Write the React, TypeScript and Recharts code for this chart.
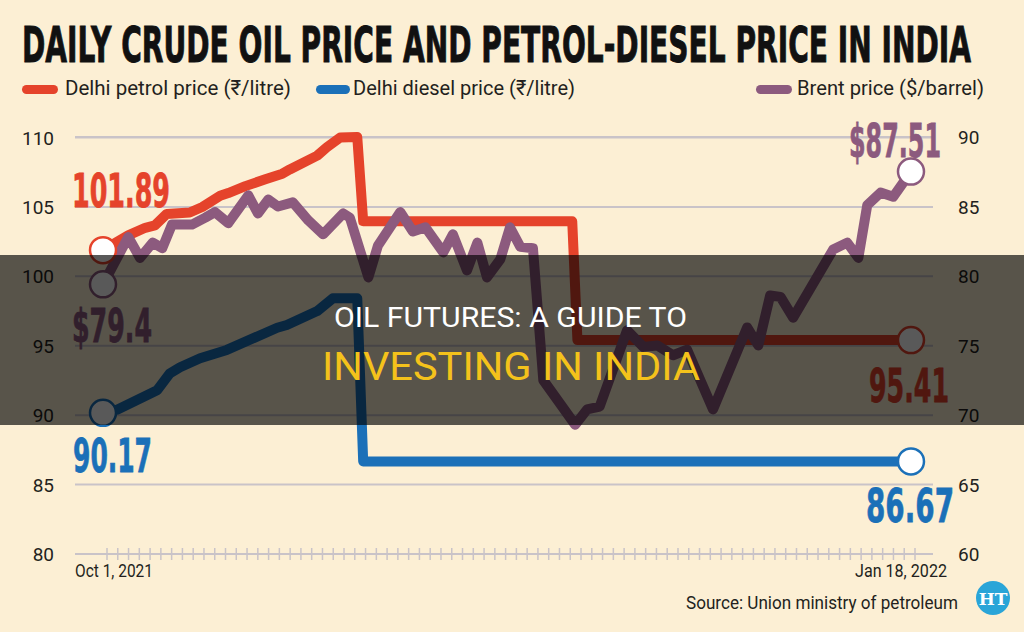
import React from 'react';
import { LineChart, Line, XAxis, YAxis, CartesianGrid } from 'recharts';

// x = days since Oct 1, 2021 (0) .. Jan 18, 2022 (109)
const petrolDays = [0, 3.4, 5.7, 7, 8.6, 11.7, 13.4, 15.8, 16.9, 19.2, 21.9, 24.2, 25.2, 28.9, 30.2, 32, 34.3, 35.1, 63.3, 64, 109];
const petrolPrice = [101.89, 102.95, 103.5, 103.67, 104.5, 104.6, 105.0, 105.8, 106.0, 106.5, 107.0, 107.4, 107.7, 108.7, 109.3, 110.0, 110.04, 103.97, 103.97, 95.41, 95.41];

const dieselDays = [0, 1.9, 7.3, 9, 10.4, 13.1, 16.7, 23.5, 24.8, 28.9, 31, 34.3, 35.1, 109];
const dieselPrice = [90.17, 90.4, 91.8, 93.0, 93.45, 94.1, 94.7, 96.3, 96.5, 97.5, 98.42, 98.42, 86.67, 86.67];

const brentDays = [0, 3.4, 5, 6.7, 8, 9.3, 12, 13.8, 15.1, 16.9, 19.6, 20.9, 22.3, 23.6, 25.6, 27.7, 29.7, 32.4, 33.3, 35.8, 37.1, 40.1, 41.8, 43.5, 45.9, 47.2, 49.1, 50.5, 51.8, 53.6, 54.9, 56.3, 58, 59.4, 63.7, 65.3, 67, 70.7, 72.9, 74.8, 76.9, 78.8, 82.3, 86.9, 88.4, 90, 91.4, 93.1, 98.5, 100.4, 101.9, 103.1, 104.9, 106.6, 109];
const brentPrice = [79.4, 82.8, 81.3, 82.4, 82.0, 83.7, 83.7, 84.2, 84.6, 83.8, 85.8, 84.5, 85.5, 85.0, 85.3, 84.0, 83.0, 84.5, 84.2, 79.9, 82.2, 84.6, 83.2, 83.5, 81.7, 83.0, 80.4, 82.4, 79.9, 81.2, 83.5, 82.1, 82.0, 72.5, 69.3, 70.4, 70.6, 76.1, 74.9, 75.0, 74.3, 74.7, 70.4, 76.3, 75.0, 78.6, 78.5, 77.0, 81.9, 82.4, 81.3, 85.1, 86.0, 85.7, 87.51];

const leftTicks = [80, 85, 90, 95, 100, 105, 110];
const rightTicks = [60, 65, 70, 75, 80, 85, 90];
const dateLabels = ['Oct 1, 2021', 'Jan 18, 2022'];
const legendLabels = ['Delhi petrol price (₹/litre)', 'Delhi diesel price (₹/litre)', 'Brent price ($/barrel)'];

const TICK_COUNT = 76;
const dayTicks = Array.from({ length: TICK_COUNT }, (_, i) => 0.54 + (i * 109) / (TICK_COUNT - 1));

const BG = '#FCEFD4';
const GRID = '#C9C3C8';
const PETROL = '#E5432B';
const DIESEL = '#1B70B8';
const BRENT = '#8C5A7E';
const INK = '#231F20';

const rows = (days: number[], vals: number[]) => days.map((d, i) => ({ day: d, v: vals[i] }));
const petrolData = rows(petrolDays, petrolPrice);
const dieselData = rows(dieselDays, dieselPrice);
const brentData = rows(brentDays, brentPrice);

// squeezed text: scaled horizontally so its box is the real width w
function FitText({ x, y, w, sx, children, ...rest }: any) {
  return (
    <text
      transform={`translate(${x},${y}) scale(${sx},1)`}
      textLength={w / sx}
      lengthAdjust="spacingAndGlyphs"
      {...rest}
    >
      {children}
    </text>
  );
}

// rough DejaVu Sans Bold advance widths for the big value labels
const numWidth = (s: string, size: number) =>
  [...s].reduce((t, c) => t + (c === '.' ? 0.38 : 0.696), 0) * size;

type Note = { dx: number; dy: number; w: number; text: string };

function endDots(color: string, count: number, start: Note, end: Note) {
  return (p: any) => {
    const { cx, cy, index } = p;
    if (index !== 0 && index !== count - 1) return <g key={`d${index}`} />;
    const n = index === 0 ? start : end;
    return (
      <g key={`d${index}`}>
        <circle cx={cx} cy={cy} r={13} fill="#fff" stroke={color} strokeWidth={2.5} />
        <FitText
          x={cx + n.dx}
          y={cy + n.dy}
          w={n.w}
          sx={n.w / numWidth(n.text, 47)}
          fontFamily="DejaVu Sans"
          fontWeight="bold"
          fontSize={47}
          fill={color}
          stroke={color}
          strokeWidth={0.8}
        >
          {n.text}
        </FitText>
      </g>
    );
  };
}

const XTick = (props: any) => {
  const { x, y, index } = props;
  return (
    <g>
      <line x1={x} x2={x} y1={y - 6} y2={y + 6} stroke={GRID} strokeWidth={1.5} />
      {index === 0 && (
        <FitText x={x - 32} y={y + 23} w={78} sx={0.82} fontFamily="Roboto" fontSize={19} fill={INK}>
          {dateLabels[0]}
        </FitText>
      )}
      {index === TICK_COUNT - 1 && (
        <FitText x={x - 60} y={y + 23} w={92} sx={0.86} fontFamily="Roboto" fontSize={19} fill={INK}>
          {dateLabels[1]}
        </FitText>
      )}
    </g>
  );
};

const LeftTick = (props: any) => (
  <text x={props.x} y={props.y + 7} textAnchor="end" fontFamily="Roboto" fontSize={19} fill={INK}>
    {props.payload.value}
  </text>
);

const RightTick = (props: any) => (
  <text x={props.x} y={props.y + 7} textAnchor="start" fontFamily="Roboto" fontSize={19} fill={INK}>
    {props.payload.value}
  </text>
);

export default function App() {
  return (
    <div style={{ position: 'absolute', left: 0, top: 0, width: 1024, height: 632, background: BG, overflow: 'hidden' }}>
      <div style={{ position: 'absolute', left: 0, top: 0 }}>
        <LineChart width={1024} height={632} margin={{ top: 137, right: 0, left: 0, bottom: 48 }}>
          <CartesianGrid yAxisId="left" vertical={false} stroke={GRID} strokeWidth={2} />
          <XAxis
            type="number"
            dataKey="day"
            domain={[0, 110]}
            ticks={dayTicks}
            interval={0}
            padding={{ left: 28, right: 14.6 }}
            height={30}
            tickSize={0}
            tickMargin={0}
            tickLine={false}
            axisLine={{ stroke: GRID, strokeWidth: 2 }}
            tick={<XTick />}
          />
          <YAxis
            yAxisId="left"
            domain={[80, 110]}
            ticks={leftTicks}
            width={75}
            axisLine={false}
            tickLine={false}
            tickSize={0}
            tickMargin={21}
            tick={<LeftTick />}
          />
          <YAxis
            yAxisId="right"
            orientation="right"
            domain={[60, 90]}
            ticks={rightTicks}
            width={91}
            axisLine={false}
            tickLine={false}
            tickSize={0}
            tickMargin={25}
            tick={<RightTick />}
          />
          <Line
            yAxisId="left"
            data={petrolData}
            dataKey="v"
            type="linear"
            stroke={PETROL}
            strokeWidth={10}
            strokeLinejoin="round"
            isAnimationActive={false}
            dot={endDots(
              PETROL,
              petrolData.length,
              { dx: -31, dy: -43, w: 98, text: petrolPrice[0].toFixed(2) },
              { dx: -42, dy: 62, w: 80, text: petrolPrice[petrolPrice.length - 1].toFixed(2) }
            )}
            activeDot={false}
          />
          <Line
            yAxisId="left"
            data={dieselData}
            dataKey="v"
            type="linear"
            stroke={DIESEL}
            strokeWidth={10}
            strokeLinejoin="round"
            isAnimationActive={false}
            dot={endDots(
              DIESEL,
              dieselData.length,
              { dx: -30, dy: 59, w: 79, text: dieselPrice[0].toFixed(2) },
              { dx: -45, dy: 61, w: 88, text: dieselPrice[dieselPrice.length - 1].toFixed(2) }
            )}
            activeDot={false}
          />
          <Line
            yAxisId="right"
            data={brentData}
            dataKey="v"
            type="linear"
            stroke={BRENT}
            strokeWidth={10}
            strokeLinejoin="round"
            isAnimationActive={false}
            dot={endDots(
              BRENT,
              brentData.length,
              { dx: -31, dy: 58, w: 80, text: '$' + brentPrice[0] },
              { dx: -62, dy: -15, w: 92, text: '$' + brentPrice[brentPrice.length - 1] }
            )}
            activeDot={false}
          />
        </LineChart>
      </div>
      <svg width={1024} height={632} style={{ position: 'absolute', left: 0, top: 0, pointerEvents: 'none' }}>
        <FitText
          x={22}
          y={62}
          w={949}
          sx={0.57}
          fontFamily="DejaVu Sans"
          fontWeight="bold"
          fontSize={50}
          fill="#111"
          stroke="#111"
          strokeWidth={1}
        >
          DAILY CRUDE OIL PRICE AND PETROL-DIESEL PRICE IN INDIA
        </FitText>

        {/* legend */}
        <rect x={22} y={85} width={36} height={9} rx={4.5} fill={PETROL} />
        <FitText x={65} y={95} w={226} sx={0.8} fontFamily="Roboto" fontSize={21} fill={INK}>
          {legendLabels[0]}
        </FitText>
        <rect x={316} y={85} width={34} height={9} rx={4.5} fill={DIESEL} />
        <FitText x={353} y={95} w={222} sx={0.8} fontFamily="Roboto" fontSize={21} fill={INK}>
          {legendLabels[1]}
        </FitText>
        <rect x={756} y={85} width={36} height={9} rx={4.5} fill={BRENT} />
        <FitText x={797} y={95} w={187} sx={0.8} fontFamily="Roboto" fontSize={21} fill={INK}>
          {legendLabels[2]}
        </FitText>

        <FitText x={686} y={609} w={272} sx={0.9} fontFamily="Roboto" fontSize={19} fill={INK}>
          Source: Union ministry of petroleum
        </FitText>
        <circle cx={993} cy={598} r={17} fill="#2AA5D8" />
        <text x={993} y={605} textAnchor="middle" fontFamily="DejaVu Serif" fontWeight="bold" fontSize={17} fill="#fff">
          HT
        </text>

        {/* banner overlay */}
        <rect x={0} y={255} width={1024} height={170} fill="rgba(0,0,0,0.65)" />
        <FitText x={334} y={327} w={353} sx={1} fontFamily="Roboto" fontSize={27} fill="#fff">
          OIL FUTURES: A GUIDE TO
        </FitText>
        <FitText x={322} y={380} w={378} sx={1} fontFamily="Roboto" fontSize={38} fill="#F4C21B">
          INVESTING IN INDIA
        </FitText>
      </svg>
    </div>
  );
}
